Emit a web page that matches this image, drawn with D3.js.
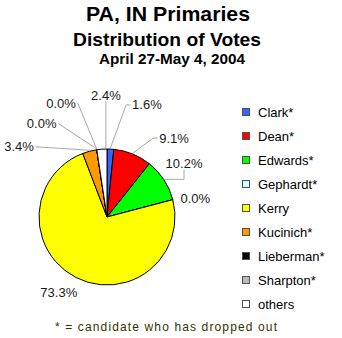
<!DOCTYPE html>
<html>
<head>
<meta charset="utf-8">
<script src="https://cdn.jsdelivr.net/npm/d3@7/dist/d3.min.js"></script>
<style>
  html, body { margin: 0; padding: 0; background: #ffffff; }
  svg { display: block; }
  text { font-family: "Liberation Sans", Arial, Helvetica, sans-serif; }
</style>
</head>
<body>
<svg id="chart" width="342" height="338"></svg>
<script>
// ---- data ----
const categories = ["Clark*", "Dean*", "Edwards*", "Gephardt*", "Kerry", "Kucinich*", "Lieberman*", "Sharpton*", "others"];
const voteShares = [1.6, 9.1, 10.2, 0.0, 73.3, 3.4, 0.0, 0.0, 2.4];
const sliceColors = ["#3366FF", "#FF0000", "#00FF00", "#CCFFFF", "#FFFF00", "#FF9900", "#000000", "#BBBBBB", "#FFFFFF"];
const titleLines = ["PA, IN Primaries", "Distribution of Votes", "April 27-May 4, 2004"];
const footnoteText = "* = candidate who has dropped out";

// ---- layout (label placement as polar angle in degrees, distance from pie centre) ----
const labelPlacement = [[19.6, 119], [40.3, 103.6], [55.2, 93.8], [78.3, 90.2], [212.7, 89.2], [308.6, 112.6], [325, 113.9], [338, 122.7], [359.5, 122]];

const svg = d3.select("#chart");
const cx = 107, cy = 217, R = 68;

// titles
const titleSpec = [
  { x: 86, y: 21, size: 21, len: 164 },
  { x: 73, y: 46, size: 19, len: 188 },
  { x: 99, y: 64, size: 14, len: 146 }
];
titleLines.forEach((t, i) => {
  const s = titleSpec[i];
  svg.append("text")
    .attr("x", s.x).attr("y", s.y)
    .attr("font-size", s.size).attr("font-weight", "bold")
    .attr("fill", "#000")
    .attr("textLength", s.len).attr("lengthAdjust", "spacingAndGlyphs")
    .text(t);
});

// pie
const data = categories.map((c, i) => ({ name: c, value: voteShares[i], color: sliceColors[i], idx: i }));
const pie = d3.pie().value(d => d.value).sort(null).startAngle(0).endAngle(2 * Math.PI);
const arcs = pie(data);
const arc = d3.arc().innerRadius(0).outerRadius(R);
const color = d3.scaleOrdinal().domain(categories).range(sliceColors);

const g = svg.append("g").attr("transform", `translate(${cx},${cy})`);
g.selectAll("path.slice").data(arcs).join("path")
  .attr("class", "slice")
  .attr("d", arc)
  .attr("fill", d => color(d.data.name))
  .attr("stroke", "#000")
  .attr("stroke-width", 1)
  .attr("stroke-linejoin", "round");

// labels + leader lines
const fmt = d => d.toFixed(1) + "%";
const leaderG = svg.append("g");
const labelG = svg.append("g");
arcs.forEach((a, i) => {
  const [angDeg, dist] = labelPlacement[i];
  const ang = angDeg * Math.PI / 180;
  const lx = cx + dist * Math.sin(ang);
  const ly = cy - dist * Math.cos(ang);
  const t = labelG.append("text")
    .attr("x", lx).attr("y", ly + 4.6)
    .attr("text-anchor", "middle")
    .attr("font-size", 13)
    .attr("fill", "#1a1a1a")
    .text(fmt(a.data.value));
  const w = t.node().getComputedTextLength();
  const box = { left: lx - w / 2, right: lx + w / 2, top: ly - 4.8, bottom: ly + 4.8 };

  const mid = (a.startAngle + a.endAngle) / 2;
  const ax = cx + (R + 1) * Math.sin(mid);
  const ay = cy - (R + 1) * Math.cos(mid);
  const nx = Math.max(box.left, Math.min(ax, box.right));
  const ny = Math.max(box.top, Math.min(ay, box.bottom));
  const near = Math.hypot(ax - nx, ay - ny);
  if (near < 10) return;
  let pts;
  if (box.left - ax > 8) {
    pts = [[ax, ay], [box.left - 6, ly], [box.left - 1.5, ly]];
  } else if (ax - box.right > 8) {
    pts = [[ax, ay], [box.right + 2, ly]];
  } else {
    pts = [[ax, ay], [lx, ay], [lx, box.bottom + 1.5]];
  }
  leaderG.append("path")
    .attr("d", d3.line()(pts))
    .attr("fill", "none")
    .attr("stroke", "#A8A8A8")
    .attr("stroke-width", 1);
});

// legend
const legend = svg.append("g");
categories.forEach((c, i) => {
  const base = 117 + i * 24;
  legend.append("rect")
    .attr("x", 242.5).attr("y", base - 8.5)
    .attr("width", 7).attr("height", 7)
    .attr("fill", color(c))
    .attr("stroke", "#505050").attr("stroke-width", 1);
  legend.append("text")
    .attr("x", 258).attr("y", base)
    .attr("font-size", 13).attr("fill", "#000")
    .text(c);
});

// footnote
svg.append("text")
  .attr("x", 55).attr("y", 331)
  .attr("font-size", 12)
  .attr("fill", "#333300")
  .attr("textLength", 222).attr("lengthAdjust", "spacing")
  .text(footnoteText);
</script>
</body>
</html>
